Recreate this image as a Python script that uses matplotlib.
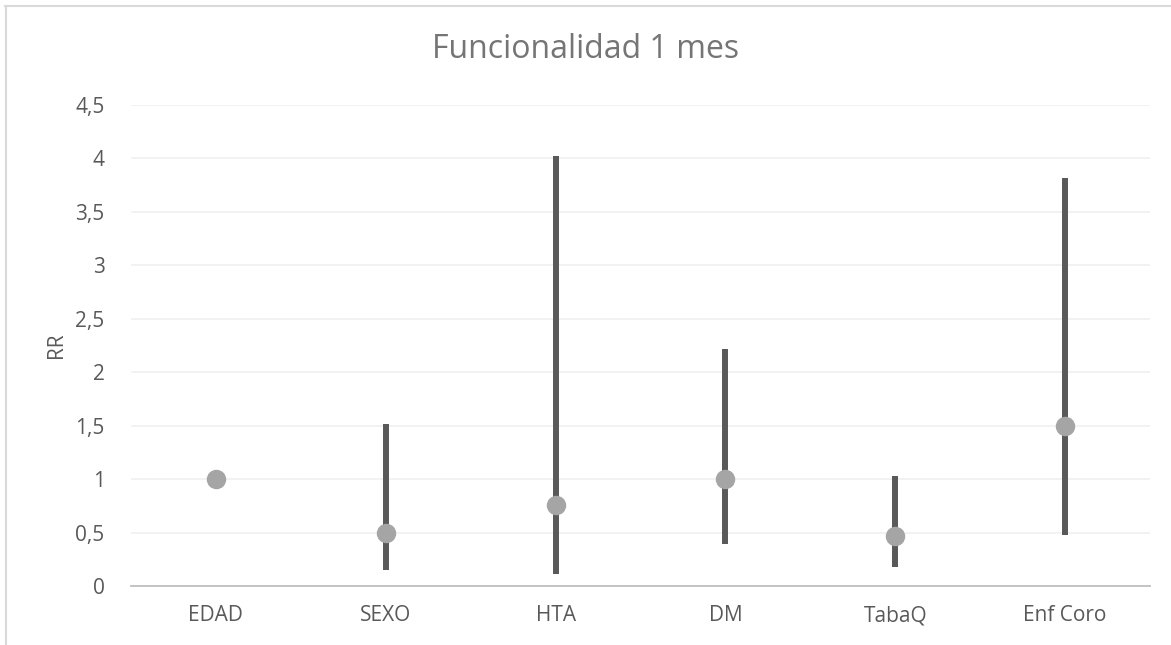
import matplotlib.pyplot as plt
import matplotlib.ticker as ticker
from matplotlib.lines import Line2D

# data
categories = ['EDAD', 'SEXO', 'HTA', 'DM', 'TabaQ', 'Enf Coro']
rr = [1.0, 0.5, 0.76, 1.0, 0.47, 1.5]
ci_low = [1.0, 0.15, 0.11, 0.39, 0.18, 0.48]
ci_high = [1.0, 1.52, 4.02, 2.22, 1.03, 3.82]

plt.rcParams['font.family'] = ['Open Sans', 'DejaVu Sans']
txt = '#595959'

fig = plt.figure(figsize=(11.71, 6.45), dpi=100)
ax = fig.add_axes([131 / 1171, 1 - 586 / 645, (1150 - 131) / 1171, (586 - 105) / 645])

x = list(range(len(categories)))

# confidence interval lines
ax.vlines(x, ci_low, ci_high, colors='#595959', linewidth=4.3, zorder=2)
# point estimates
ax.plot(x, rr, 'o', color='#a5a5a5', markersize=13, zorder=3)

ax.set_xlim(-0.5, len(categories) - 0.5)
ax.set_ylim(0, 4.5)
ax.yaxis.set_major_locator(ticker.MultipleLocator(0.5))
ax.yaxis.set_major_formatter(ticker.FuncFormatter(
    lambda v, pos: ('%g' % v).replace('.', ',')))
ax.set_xticks(x)
ax.set_xticklabels(categories)
ax.grid(axis='y', color='#f0f0f0', linewidth=1.2, zorder=0)
ax.set_axisbelow(True)

for s in ['top', 'right', 'left']:
    ax.spines[s].set_visible(False)
ax.spines['bottom'].set_color('#bfbfbf')
ax.spines['bottom'].set_linewidth(1.3)

ax.tick_params(axis='both', length=0, labelsize=15, colors=txt)
ax.tick_params(axis='y', pad=19)
ax.tick_params(axis='x', pad=14)
ax.set_ylabel('RR', fontsize=15, color=txt, labelpad=6)

fig.text(586 / 1171, 1 - 50 / 645, 'Funcionalidad 1 mes', ha='center', va='center',
         fontsize=23, color='#757575')

# chart border (top and left visible)
fig.add_artist(Line2D([5 / 1171, 1], [1 - 6 / 645, 1 - 6 / 645], color='#d9d9d9', linewidth=1.5))
fig.add_artist(Line2D([6 / 1171, 6 / 1171], [0, 1 - 6 / 645], color='#d9d9d9', linewidth=1.5))

fig.savefig('out.png', dpi=100)
